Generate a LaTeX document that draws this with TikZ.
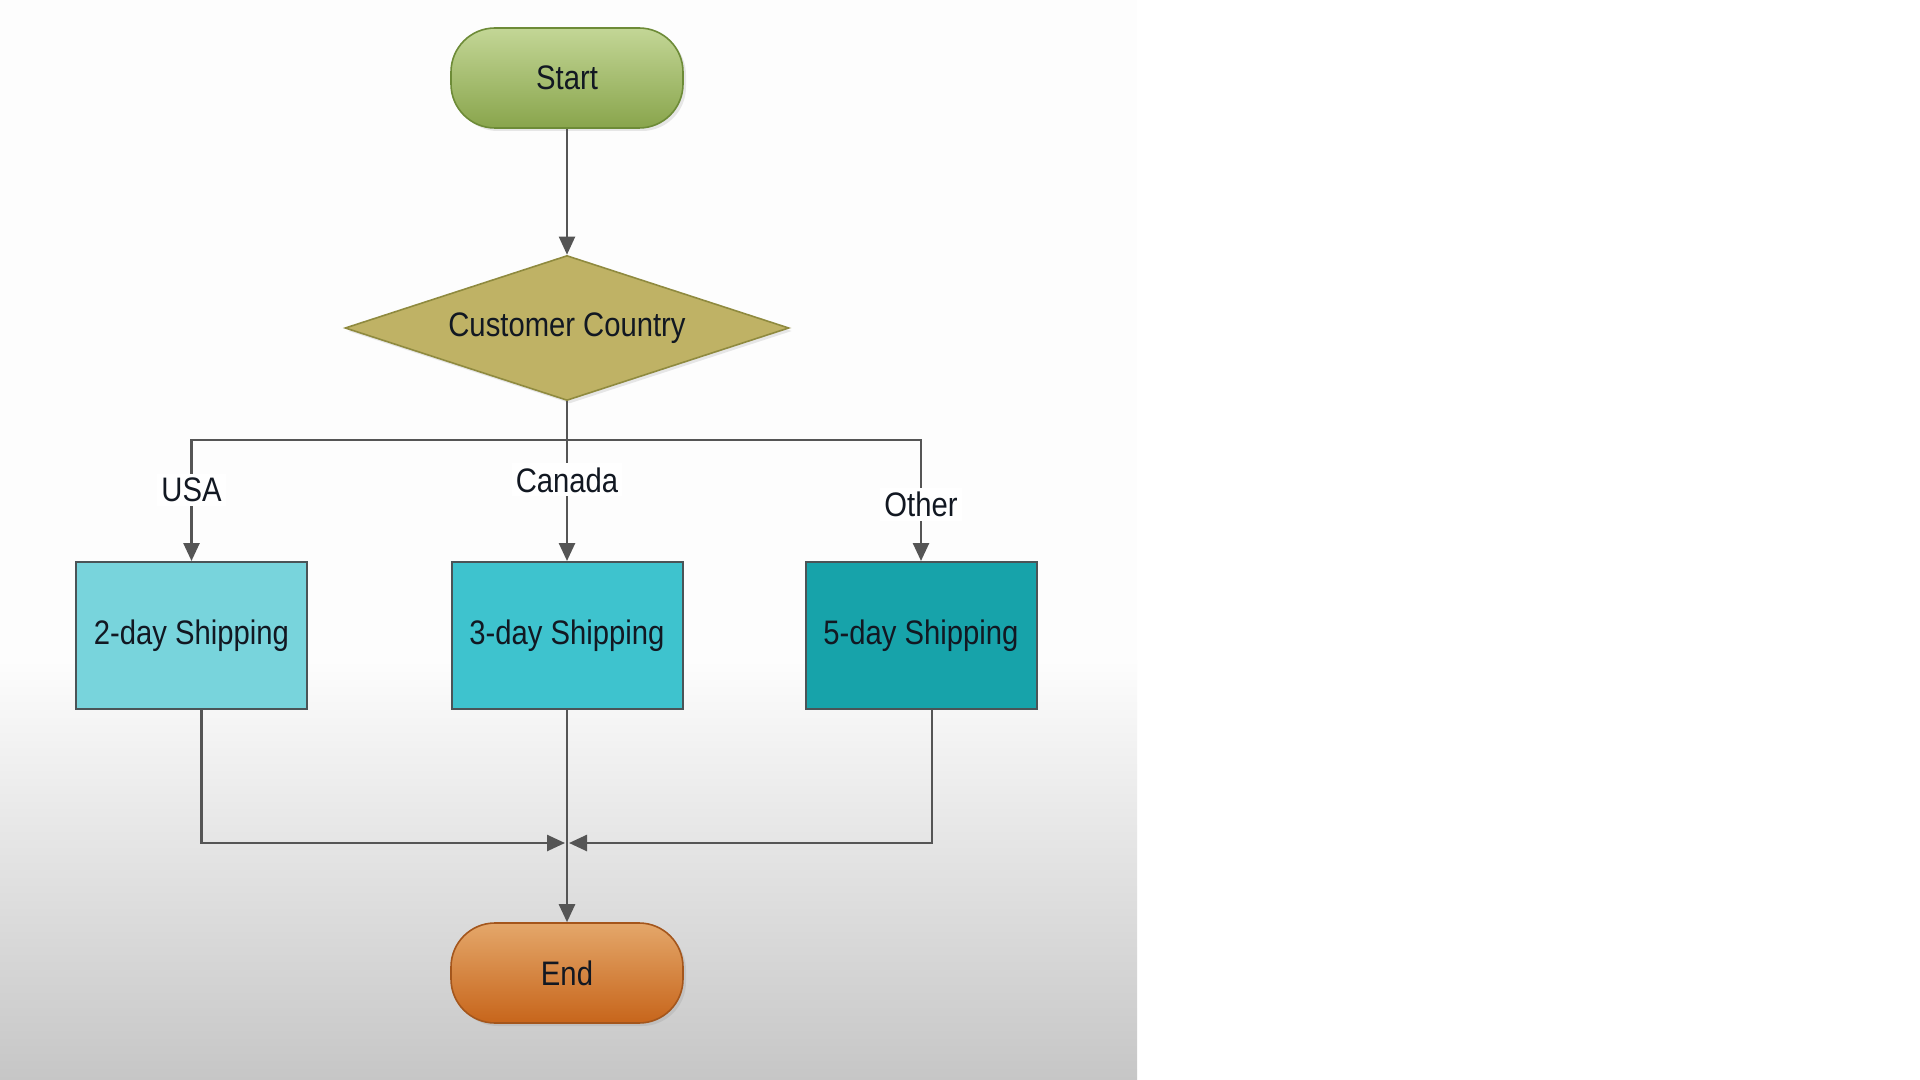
\documentclass[tikz,border=0pt]{standalone}
\usepackage{fontspec}
\setmainfont{Liberation Sans}[FakeStretch=0.86]
\usepackage{tikz}
\usetikzlibrary{shapes.geometric}
\usetikzlibrary{arrows.meta}
\usetikzlibrary{shadows}
\definecolor{inkblue}{HTML}{121822}
\definecolor{wire}{HTML}{555555}
\definecolor{greentop}{HTML}{C3D696}
\definecolor{greenbot}{HTML}{89A54C}
\definecolor{greenrim}{HTML}{6D8B37}
\definecolor{olivefill}{HTML}{BFB265}
\definecolor{oliverim}{HTML}{8F8A3F}
\definecolor{shipA}{HTML}{78D4DC}
\definecolor{shipB}{HTML}{3EC3CE}
\definecolor{shipC}{HTML}{17A3AA}
\definecolor{shiprim}{HTML}{4B5457}
\definecolor{orangetop}{HTML}{E4A76A}
\definecolor{orangebot}{HTML}{C7651B}
\definecolor{orangerim}{HTML}{A4561C}
\definecolor{backtop}{HTML}{FDFDFD}
\definecolor{backbot}{HTML}{C6C6C6}

\begin{document}
\begin{tikzpicture}[x=0.5pt, y=-0.5pt,
	>={Triangle[length=9pt,width=8pt]},
	txt/.style={font=\fontsize{17}{20}\selectfont, text=inkblue},
	terminal/.style={txt, draw, line width=0.8pt, rounded corners=22pt, minimum width=116pt, minimum height=50pt, inner sep=0pt, drop shadow={opacity=0.18, shadow xshift=1.5pt, shadow yshift=-1.5pt}},
	decision/.style={txt, diamond, aspect=3, draw=oliverim, fill=olivefill, line width=0.8pt, minimum width=222pt, minimum height=72.5pt, inner sep=0pt, drop shadow={opacity=0.18, shadow xshift=1.5pt, shadow yshift=-1.5pt}},
	shipbox/.style={txt, rectangle, draw=shiprim, line width=1pt, minimum width=115.5pt, minimum height=73.5pt, inner sep=0pt},
	conn/.style={draw=wire, line width=1.3pt},
	lbl/.style={txt, fill=white, inner sep=2pt}]

				\fill[white] (0,0) rectangle (1920,1080);
				\fill[backtop] (0,0) rectangle (1137,660);
				\shade[top color=backtop, bottom color=backbot] (0,660) rectangle (1137,1080);
				\useasboundingbox (0,0) rectangle (1920,1080);

				\node[terminal, top color=greentop, bottom color=greenbot, draw=greenrim] (start) at (567,78) {Start};
				\node[decision] (country) at (567,328) {Customer Country};
				\node[shipbox, fill=shipA] (ship1) at (191.5,635.5) {2-day Shipping};
				\node[shipbox, fill=shipB] (ship2) at (567,635.5) {3-day Shipping};
				\node[shipbox, fill=shipC] (ship3) at (921,635.5) {5-day Shipping};
				\node[terminal, top color=orangetop, bottom color=orangebot, draw=orangerim] (finish) at (567,973) {End};
				\coordinate (split) at (567,440);
				\coordinate (join) at (567,843);

				\draw[conn, ->, line width=1pt] (start) -- (country);
				\draw[conn] (country) -- (split);
				\draw[conn, ->] (split) -| (ship1) node[pos=0.705, lbl] {USA};
				\draw[conn, ->] (split) -- (ship2) node[pos=0.33, lbl] {Canada};
				\draw[conn, ->] (split) -| (ship3) node[pos=0.766, lbl] {Other};
				\draw[conn, ->, shorten >=1pt] ([xshift=5pt]ship1.south) |- (join);
				\draw[conn, ->, shorten >=1pt] ([xshift=5.5pt]ship3.south) |- (join);
				\draw[conn, ->] (ship2) -- (finish);
			\end{tikzpicture}
\end{document}
